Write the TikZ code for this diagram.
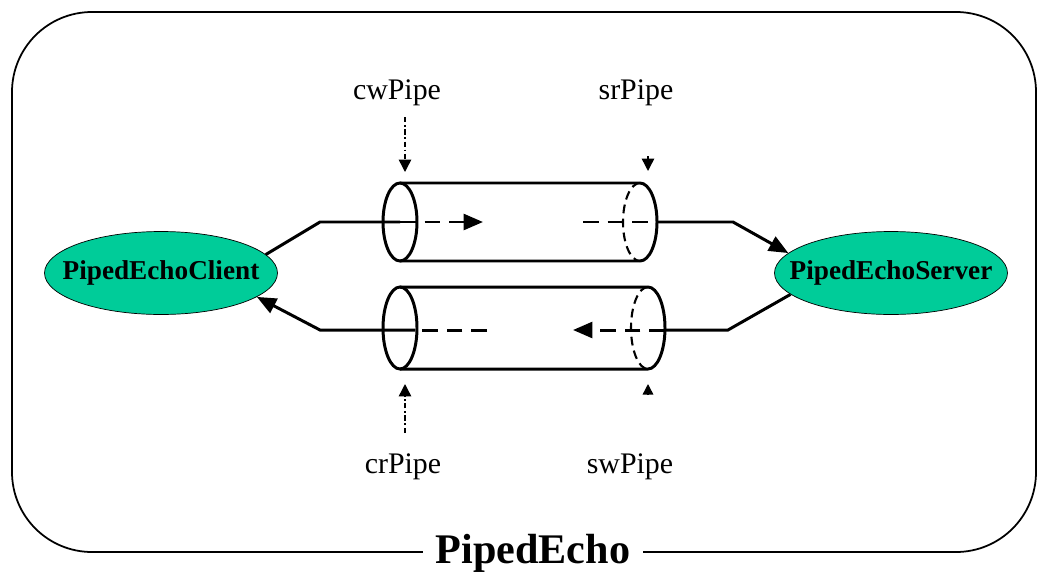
\documentclass[tikz,border=0pt]{standalone}
\usepackage{fontspec}
\setmainfont{Liberation Serif}
\usetikzlibrary{arrows.meta,shapes.geometric}
\definecolor{procgreen}{RGB}{0,204,153}

\begin{document}
\begin{tikzpicture}[x=0.02cm,y=-0.02cm,
  proc/.style={ellipse,draw,fill=procgreen,minimum width=4.66cm,minimum height=1.66cm,
    inner sep=0pt,font=\fontsize{15.5}{18}\selectfont\bfseries},
  pipeline/.style={line width=1.7pt},
  hidden/.style={line width=1.2pt,dash pattern=on 5pt off 3pt},
  flow/.style={line width=1.7pt},
  flowdash/.style={flow,dash pattern=on 9pt off 5pt},
  headed/.style={-{Triangle[length=11pt,width=9pt]}},
  tag/.style={line width=0.8pt,dash pattern=on 3pt off 1.5pt on 1pt off 1.5pt,
    -{Triangle[length=7pt,width=7pt]}},
  tagtext/.style={font=\fontsize{17}{20}\selectfont}]
  \useasboundingbox (0,0) rectangle (1038,572);
  % outer frame with its title set into the bottom edge
  \draw[line width=1pt,rounded corners=1.6cm] (12,12) rectangle (1036,552);
  \node[fill=white,inner xsep=7pt,inner ysep=0pt,anchor=base,
    font=\fontsize{24}{28}\selectfont\bfseries] (title) at (533,563) {PipedEcho};
  % the two end points (text boxed to zero width so the ellipse keeps its size)
  \node[proc] (client) at (161,273) {\makebox[0pt]{PipedEchoClient}};
  \node[proc] (server) at (891,273) {\makebox[0pt]{PipedEchoServer}};
  % upper pipe (cwPipe -> srPipe)
  \draw[pipeline] (400,222) ellipse [x radius=17,y radius=39];
  \draw[pipeline] (400,183) -- (640,183)
    arc[start angle=-90,end angle=90,x radius=17,y radius=39] -- (400,261);
  \draw[hidden] (640,183) arc[start angle=-90,end angle=-270,x radius=17,y radius=39];
  % lower pipe (swPipe -> crPipe)
  \draw[pipeline] (400,328) ellipse [x radius=17,y radius=41];
  \draw[pipeline] (400,287) -- (648,287)
    arc[start angle=-90,end angle=90,x radius=17,y radius=41] -- (400,369);
  \draw[hidden] (648,287) arc[start angle=-90,end angle=-270,x radius=17,y radius=41];
  % bends and breaks of the two flows
  \coordinate (ubendL) at (320,222);
  \coordinate (uin) at (400,222);
  \coordinate (utip) at (483,222);
  \coordinate (uout) at (583,222);
  \coordinate (uend) at (657,222);
  \coordinate (ubendR) at (733,222);
  \coordinate (lbendR) at (728,330);
  \coordinate (lin) at (665,330);
  \coordinate (ltip) at (573,330);
  \coordinate (lout) at (487,330);
  \coordinate (lend) at (415,330);
  \coordinate (lbendL) at (320,330);
  % client -> server
  \draw[flow] (client.10) -- (ubendL) -- (uin);
  \draw[flowdash,headed] (uin) -- (utip);
  \draw[flowdash] (uout) -- (uend);
  \draw[flow,headed] (uend) -- (ubendR) -- (server.169);
  % server -> client
  \draw[flow] (server.192) -- (lbendR) -- (lin);
  \draw[flowdash,headed] (lin) -- (ltip);
  \draw[flowdash] (lout) -- (lend);
  \draw[flow,headed] (lend) -- (lbendL) -- (client.-14);
  % pipe names
  \node[tagtext] (cwpipe) at (397,93) {cwPipe};
  \node[tagtext] (srpipe) at (636,93) {srPipe};
  \node[tagtext] (crpipe) at (403,467) {crPipe};
  \node[tagtext] (swpipe) at (630,467) {swPipe};
  \coordinate (cwtail) at (405,117);
  \coordinate (cwtip) at (405,172);
  \coordinate (srtail) at (648,156);
  \coordinate (srtip) at (648,171);
  \coordinate (crtail) at (405,433);
  \coordinate (crtip) at (405,384);
  \coordinate (swtail) at (648,395);
  \coordinate (swtip) at (648,384);
  \draw[tag] (cwtail) -- (cwtip);
  \draw[tag] (srtail) -- (srtip);
  \draw[tag] (crtail) -- (crtip);
  \draw[tag,-{Triangle[length=6pt,width=6pt]}] (swtail) -- (swtip);
\end{tikzpicture}
\end{document}
